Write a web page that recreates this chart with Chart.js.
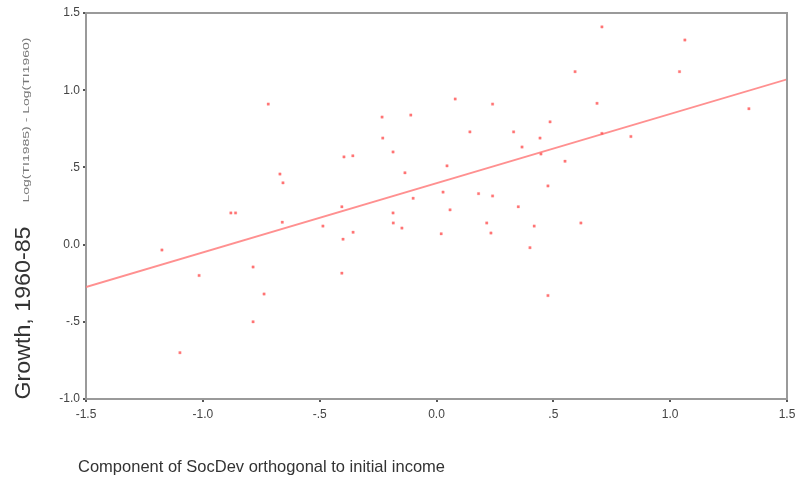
<!DOCTYPE html>
<html><head><meta charset="utf-8">
<script src="https://cdn.jsdelivr.net/npm/chart.js@4"></script>
<style>html,body{margin:0;padding:0;background:#fff}#wrap{width:803px;height:484px}</style>
</head><body><div id="wrap"><canvas id="c" width="803" height="484"></canvas></div>
<script>
const socDev = [-1.175,-1.098,-1.016,-0.88,-0.86,-0.785,-0.785,-0.738,-0.72,-0.67,-0.657,-0.66,-0.486,-0.405,-0.405,-0.40,-0.396,-0.358,-0.357,-0.233,-0.23,-0.186,-0.186,-0.185,-0.148,-0.135,-0.11,-0.10,0.02,0.028,0.045,0.058,0.08,0.143,0.18,0.215,0.233,0.24,0.24,0.33,0.35,0.366,0.40,0.418,0.443,0.447,0.477,0.477,0.486,0.55,0.593,0.618,0.687,0.708,0.708,0.832,1.04,1.063,1.337];
const growth = [-0.035,-0.70,-0.20,0.205,0.205,-0.145,-0.50,-0.32,0.91,0.457,0.40,0.145,0.12,0.245,-0.185,0.035,0.568,0.575,0.08,0.826,0.69,0.60,0.205,0.14,0.107,0.465,0.839,0.30,0.07,0.34,0.51,0.225,0.943,0.73,0.33,0.14,0.075,0.91,0.315,0.73,0.245,0.632,-0.02,0.12,0.69,0.587,0.38,-0.33,0.795,0.54,1.12,0.14,0.915,1.41,0.72,0.70,1.12,1.325,0.88];
const fitX = [-1.5, 1.5];
const fitY = [-0.275, 1.07];
const xTitle = "Component of SocDev orthogonal to initial income";
const yTitle = "Growth, 1960-85";
const ySubTitle = "Log(TI1985) - Log(TI1960)";

function fmt(v){
  const r = Math.round(v*10)/10;
  if (r === 0) return "0.0";
  if (Math.abs(r) < 1) return (r < 0 ? "-" : "") + String(Math.abs(r).toFixed(1)).replace(/^0/, "");
  return r.toFixed(1);
}

function fitText(ctx, text, cx, cy, width, rotate){
  ctx.save();
  ctx.translate(cx, cy);
  if (rotate) ctx.rotate(-Math.PI/2);
  const w = ctx.measureText(text).width;
  ctx.scale(width / w, 1);
  ctx.textAlign = 'center'; ctx.textBaseline = 'middle';
  ctx.fillText(text, 0, 0);
  ctx.restore();
}

const titles = {
  id: 'titles',
  afterDraw(chart){
    const ctx = chart.ctx, a = chart.chartArea;
    ctx.save();
    ctx.strokeStyle = '#9a9a9a'; ctx.lineWidth = 2;
    ctx.beginPath();
    ctx.moveTo(a.left, a.top); ctx.lineTo(a.right, a.top); ctx.lineTo(a.right, a.bottom);
    ctx.stroke();
    ctx.fillStyle = '#333';
    ctx.font = '17px "Liberation Sans", Arial, sans-serif';
    fitText(ctx, xTitle, 261.5, 467, 367, false);
    ctx.font = '22px "Liberation Sans", Arial, sans-serif';
    fitText(ctx, yTitle, 24, 313, 173, true);
    ctx.fillStyle = '#777';
    ctx.font = '9px "Liberation Sans", Arial, sans-serif';
    fitText(ctx, ySubTitle, 27, 120, 165, true);
    ctx.restore();
  }
};

const pts = socDev.map((x,i)=>({x, y: growth[i]}));
const fit = fitX.map((x,i)=>({x, y: fitY[i]}));

new Chart(document.getElementById('c'), {
  type: 'scatter',
  data: { datasets: [
    { data: pts, pointStyle: 'rect', pointRadius: 1.7, pointHoverRadius: 1.7,
      backgroundColor: 'rgba(255,80,80,0.8)', borderColor: 'rgba(255,120,120,0.5)', borderWidth: 0.6 },
    { type: 'line', data: fit, borderColor: 'rgba(255,125,125,0.85)', borderWidth: 1.8,
      pointRadius: 0, fill: false }
  ]},
  options: {
    responsive: false, animation: false,
    layout: { padding: { left: 0, right: 16, top: 13, bottom: 0 } },
    plugins: { legend: { display: false }, tooltip: { enabled: false } },
    scales: {
      x: { type: 'linear', min: -1.5, max: 1.5,
        afterFit(s){ s.height = 85; },
        border: { display: true, color: '#9a9a9a', width: 2 },
        grid: { display: true, drawOnChartArea: false, drawTicks: true, tickLength: 3, color: '#555', lineWidth: 2 },
        ticks: { stepSize: 0.5, callback: v => fmt(v), color: '#444', padding: 5, maxRotation: 0,
          font: { family: '"Liberation Sans", Arial, sans-serif', size: 12 } } },
      y: { type: 'linear', min: -1.0, max: 1.5,
        afterFit(s){ s.width = 86; },
        border: { display: true, color: '#9a9a9a', width: 2 },
        grid: { display: true, drawOnChartArea: false, drawTicks: true, tickLength: 3, color: '#555', lineWidth: 2 },
        ticks: { stepSize: 0.5, callback: v => fmt(v), color: '#444', padding: 3,
          font: { family: '"Liberation Sans", Arial, sans-serif', size: 12 } } }
    }
  },
  plugins: [titles]
});
</script></body></html>
